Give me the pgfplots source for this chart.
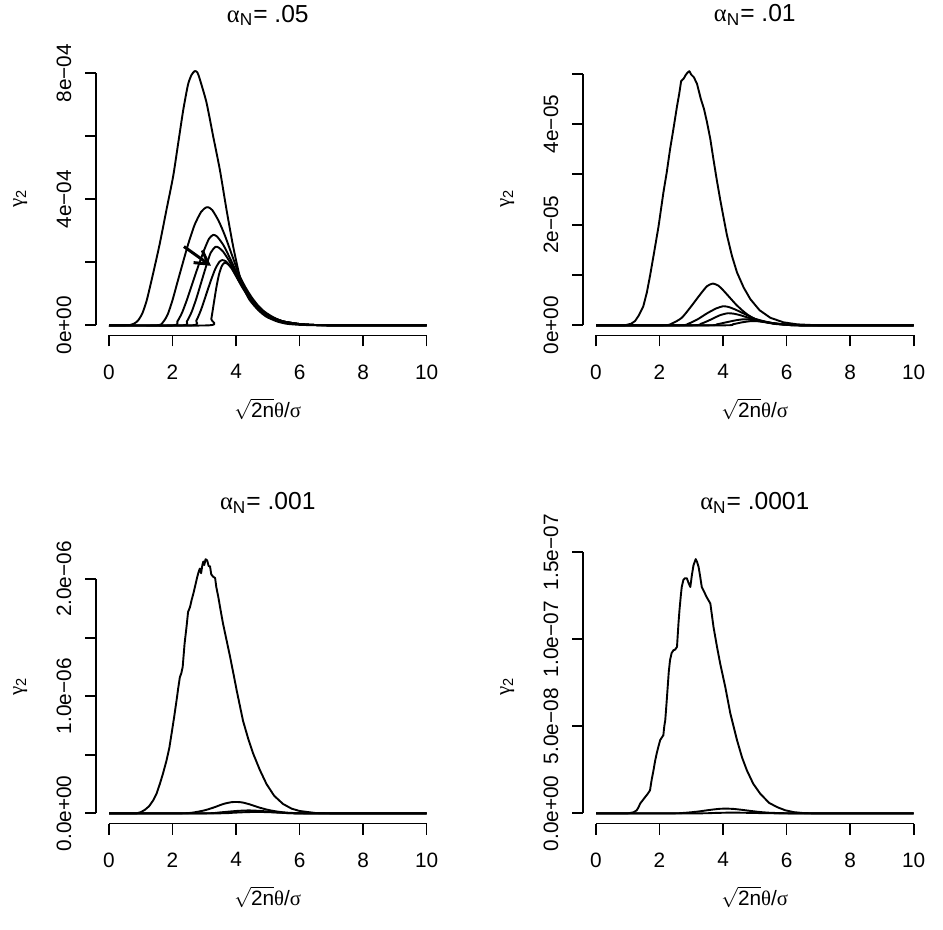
\documentclass[border=0pt]{standalone}
\usepackage{fontspec}
\setmainfont{Liberation Sans}
\newfontfamily\grk{Liberation Serif}
\usepackage{pgfplots}
\pgfplotsset{compat=1.18}
\usetikzlibrary{arrows.meta}
\newcommand{\gl}[1]{{\grk #1}}
\newcommand{\tfont}{\fontsize{12.3}{14}\selectfont}
\newcommand{\lfont}{\fontsize{10.4}{12}\selectfont}
\pgfplotsset{
  rpanel/.style={
    scale only axis, width=171.5pt, height=137.25pt,
    xmin=-0.4, xmax=10.4,
    axis line style={draw=none},
    tick align=outside, xtick pos=left, ytick pos=left,
    major tick length=5.5pt,
    tick style={black, line width=0.9pt},
    xtick={0,2,4,6,8,10}, xticklabels={0,2,4,6,8,10},
    ticklabel style={font=\lfont},
    xticklabel shift=5.5pt,
    yticklabel shift=3.5pt,
    yticklabel style={rotate=90, anchor=south},
    clip=false,
    cycle list={{black, mark=none}},
    every axis plot/.append style={black, line width=0.95pt, line join=round, mark=none},
  }
}
\newcommand{\panellabels}[1]{%
  \node[anchor=base, inner sep=0pt, yshift=19.5pt, font=\tfont] at (rel axis cs:0.5,1) {#1};
  \node[anchor=base, inner sep=0pt, yshift=-41pt, font=\lfont] at (rel axis cs:0.5,0) {$\sqrt{\mbox{2n}}$\gl{θ}/\gl{σ}};
  \node[rotate=90, inner sep=0pt, font=\lfont] at ([xshift=-38pt]rel axis cs:0,0.5) {\gl{γ}\textsubscript{2}};
}
\begin{document}
\begin{tikzpicture}
\path[use as bounding box] (0,0) rectangle (471.5pt,-465pt);

% ---------------- alpha = .05 (units 1e-4)
\begin{axis}[rpanel, at={(48.15pt,-167.75pt)}, anchor=south west,
  ymin=-0.323, ymax=8.39, ytick={0,2,4,6,8}, yticklabels={0e+00,{},4e−04,{},8e−04}]
\draw[line width=0.9pt] (axis cs:0,-0.323) -- (axis cs:10,-0.323);
\draw[line width=0.9pt] (axis cs:-0.4,0) -- (axis cs:-0.4,8);
\addplot[black, smooth, tension=0.4] coordinates {(0,0) (0.5,0) (0.66,0.01) (0.8,0.06) (0.92,0.16) (1.05,0.38) (1.19,0.80) (1.39,1.65) (1.6,2.6) (1.81,3.67) (2.02,4.73) (2.18,5.79) (2.34,6.85) (2.49,7.65) (2.6,7.95) (2.7,8.07) (2.78,8.03) (2.86,7.81) (3.07,7.07) (3.28,6.0) (3.49,4.94) (3.7,3.67) (3.91,2.5) (4.12,1.54) (4.3,1.05) (4.43,0.80) (4.7,0.48) (4.96,0.27) (5.3,0.12) (5.59,0.05) (6,0.015) (6.5,0.003) (7,0) (10,0)};
\addplot[black, smooth, tension=0.4] coordinates {(0,0) (1.5,0) (1.7,0.1) (1.85,0.35) (2.0,0.8) (2.15,1.35) (2.33,2.0) (2.5,2.6) (2.7,3.2) (2.9,3.6) (3.05,3.74) (3.12,3.75) (3.25,3.66) (3.45,3.32) (3.65,2.85) (3.9,2.15) (4.1,1.6) (4.3,1.2) (4.5,0.88) (4.7,0.62) (4.9,0.43) (5.2,0.24) (5.5,0.12) (6,0.04) (6.5,0.01) (7,0) (10,0)};
\addplot[black, smooth, tension=0.4] coordinates {(0,0) (2.0,0) (2.15,0.12) (2.3,0.4) (2.45,0.8) (2.6,1.25) (2.8,1.85) (3.0,2.4) (3.15,2.75) (3.28,2.87) (3.4,2.82) (3.6,2.55) (3.8,2.15) (4.0,1.72) (4.2,1.3) (4.4,0.95) (4.6,0.68) (4.8,0.48) (5.0,0.33) (5.2,0.23) (5.5,0.12) (6,0.04) (6.5,0.01) (7,0) (10,0)};
\addplot[black, smooth, tension=0.4] coordinates {(0,0) (2.3,0) (2.45,0.12) (2.6,0.42) (2.75,0.85) (2.9,1.35) (3.05,1.85) (3.2,2.3) (3.35,2.49) (3.45,2.47) (3.6,2.33) (3.8,2.02) (4.0,1.65) (4.2,1.26) (4.4,0.93) (4.6,0.66) (4.8,0.47) (5.0,0.32) (5.2,0.22) (5.5,0.12) (6,0.04) (6.5,0.01) (7,0) (10,0)};
\addplot[black, smooth, tension=0.4] coordinates {(0,0) (2.6,0) (2.75,0.15) (2.9,0.5) (3.05,0.95) (3.2,1.4) (3.35,1.8) (3.48,2.02) (3.57,2.07) (3.68,2.03) (3.85,1.85) (4.0,1.58) (4.2,1.22) (4.4,0.9) (4.6,0.65) (4.8,0.46) (5.0,0.32) (5.2,0.22) (5.5,0.12) (6,0.04) (6.5,0.01) (7,0) (10,0)};
\addplot[black, smooth, tension=0.4] coordinates {(0,0) (3.15,0) (3.22,0.2) (3.3,0.7) (3.38,1.2) (3.46,1.6) (3.55,1.88) (3.63,1.98) (3.72,1.96) (3.85,1.82) (4.0,1.56) (4.2,1.2) (4.4,0.89) (4.6,0.64) (4.8,0.45) (5.0,0.31) (5.2,0.21) (5.5,0.11) (6,0.04) (6.5,0.01) (7,0) (10,0)};
\draw[line width=1.5pt, -{Straight Barb[length=6.5pt, width=7.5pt]}] (axis cs:2.36,2.50) -- (axis cs:3.21,1.89);
\panellabels{\gl{α}\textsubscript{N}= .05}
\end{axis}

% ---------------- alpha = .01 (units 1e-5)
\begin{axis}[rpanel, at={(291.65pt,-167.75pt)}, anchor=south west,
  ymin=-0.202, ymax=5.252, ytick={0,1,2,3,4,5}, yticklabels={0e+00,{},2e−05,{},4e−05,{}}]
\draw[line width=0.9pt] (axis cs:0,-0.202) -- (axis cs:10,-0.202);
\draw[line width=0.9pt] (axis cs:-0.4,0) -- (axis cs:-0.4,5);
\addplot[black, sharp plot] coordinates {(0,0) (0.9,0) (1.1,0.03) (1.23,0.085) (1.35,0.2) (1.49,0.38) (1.6,0.65) (1.70,0.98) (1.83,1.45) (1.97,1.97) (2.12,2.63) (2.23,3.05) (2.33,3.49) (2.45,3.95) (2.55,4.35) (2.62,4.6) (2.68,4.85) (2.72,4.88) (2.76,4.9) (2.82,4.97) (2.88,5.02) (2.94,5.05) (3.0,4.98) (3.08,4.93) (3.18,4.8) (3.3,4.5) (3.4,4.3) (3.49,4.05) (3.6,3.7) (3.70,3.29) (3.8,2.9) (3.91,2.50) (4.02,2.13) (4.12,1.8) (4.28,1.38) (4.44,1.05) (4.65,0.75) (4.86,0.52) (5.15,0.3) (5.49,0.15) (5.9,0.06) (6.33,0.02) (7,0) (10,0)};
\addplot[black, smooth, tension=0.4] coordinates {(0,0) (2.1,0) (2.4,0.04) (2.7,0.15) (3.0,0.38) (3.3,0.63) (3.5,0.78) (3.68,0.83) (3.85,0.79) (4.0,0.7) (4.2,0.56) (4.4,0.42) (4.6,0.3) (4.8,0.2) (5.0,0.13) (5.3,0.07) (5.6,0.03) (6.0,0.01) (6.5,0) (10,0)};
\addplot[black, smooth, tension=0.4] coordinates {(0,0) (2.6,0) (2.9,0.03) (3.2,0.12) (3.5,0.24) (3.8,0.34) (4.02,0.38) (4.2,0.36) (4.4,0.31) (4.6,0.25) (4.8,0.19) (5.0,0.13) (5.3,0.08) (5.6,0.04) (6.0,0.015) (6.5,0) (10,0)};
\addplot[black, smooth, tension=0.4] coordinates {(0,0) (3.0,0) (3.3,0.03) (3.6,0.11) (3.9,0.2) (4.15,0.24) (4.35,0.23) (4.55,0.2) (4.8,0.15) (5.0,0.11) (5.3,0.07) (5.6,0.04) (6.0,0.015) (6.5,0) (10,0)};
\addplot[black, smooth, tension=0.4] coordinates {(0,0) (3.5,0) (3.8,0.02) (4.1,0.06) (4.4,0.1) (4.65,0.12) (4.9,0.11) (5.2,0.08) (5.5,0.05) (5.8,0.025) (6.2,0.008) (6.6,0) (10,0)};
\addplot[black, smooth, tension=0.4] coordinates {(0,0) (4.0,0) (4.3,0.02) (4.6,0.06) (4.9,0.085) (5.1,0.08) (5.4,0.055) (5.7,0.03) (6.0,0.012) (6.5,0) (10,0)};
\panellabels{\gl{α}\textsubscript{N}= .01}
\end{axis}

% ---------------- alpha = .001 (units 1e-6)
\begin{axis}[rpanel, at={(48.15pt,-411.75pt)}, anchor=south west,
  ymin=-0.0868, ymax=2.257, ytick={0,0.5,1,1.5,2}, yticklabels={0.0e+00,{},1.0e−06,{},2.0e−06}]
\draw[line width=0.9pt] (axis cs:0,-0.0868) -- (axis cs:10,-0.0868);
\draw[line width=0.9pt] (axis cs:-0.4,0) -- (axis cs:-0.4,2);
\addplot[black, sharp plot] coordinates {(0,0) (0.87,0) (1.0,0.01) (1.13,0.03) (1.26,0.06) (1.39,0.11) (1.5,0.17) (1.60,0.25) (1.7,0.34) (1.81,0.45) (1.9,0.56) (1.97,0.68) (2.05,0.82) (2.13,0.97) (2.18,1.07) (2.23,1.16) (2.28,1.2) (2.32,1.25) (2.38,1.45) (2.44,1.59) (2.49,1.72) (2.55,1.76) (2.60,1.82) (2.66,1.88) (2.72,1.95) (2.78,2.02) (2.82,2.06) (2.86,2.09) (2.9,2.05) (2.94,2.12) (2.97,2.15) (3.0,2.12) (3.04,2.17) (3.09,2.16) (3.14,2.11) (3.18,2.11) (3.22,2.04) (3.28,2.02) (3.34,2.01) (3.38,1.93) (3.44,1.85) (3.51,1.74) (3.59,1.62) (3.7,1.48) (3.81,1.34) (3.92,1.19) (4.02,1.05) (4.12,0.92) (4.22,0.79) (4.38,0.64) (4.54,0.51) (4.75,0.37) (4.96,0.25) (5.2,0.15) (5.48,0.08) (5.75,0.04) (6.0,0.02) (6.5,0.003) (7,0) (10,0)};
\addplot[black, smooth, tension=0.4] coordinates {(0,0) (2.2,0) (2.6,0.005) (3.0,0.025) (3.3,0.05) (3.6,0.08) (3.85,0.095) (4.02,0.097) (4.2,0.093) (4.45,0.075) (4.7,0.052) (5.0,0.03) (5.3,0.015) (5.6,0.006) (6.0,0.001) (6.5,0) (10,0)};
\addplot[black, smooth, tension=0.4] coordinates {(0,0) (3.0,0) (3.5,0.008) (4.0,0.02) (4.4,0.025) (4.8,0.02) (5.2,0.01) (5.6,0.003) (6,0) (10,0)};
\addplot[black, smooth, tension=0.4] coordinates {(0,0) (3.4,0) (3.9,0.005) (4.3,0.01) (4.7,0.012) (5.1,0.009) (5.5,0.004) (6,0) (10,0)};
\panellabels{\gl{α}\textsubscript{N}= .001}
\end{axis}

% ---------------- alpha = .0001 (units 1e-8)
\begin{axis}[rpanel, at={(291.65pt,-411.75pt)}, anchor=south west,
  ymin=-0.584, ymax=15.18, ytick={0,5,10,15}, yticklabels={0.0e+00,5.0e−08,1.0e−07,1.5e−07}]
\draw[line width=0.9pt] (axis cs:0,-0.584) -- (axis cs:10,-0.584);
\draw[line width=0.9pt] (axis cs:-0.4,0) -- (axis cs:-0.4,15);
\addplot[black, sharp plot] coordinates {(0,0) (1.0,0) (1.07,0.02) (1.18,0.06) (1.28,0.17) (1.34,0.35) (1.39,0.56) (1.47,0.75) (1.55,0.94) (1.62,1.1) (1.70,1.32) (1.75,1.9) (1.81,2.47) (1.86,3.0) (1.91,3.43) (1.96,3.8) (2.02,4.2) (2.07,4.35) (2.12,4.48) (2.15,5.0) (2.18,5.34) (2.22,6.3) (2.25,7.07) (2.29,8.1) (2.33,8.79) (2.38,9.2) (2.44,9.37) (2.49,9.4) (2.55,9.56) (2.6,11.0) (2.63,11.7) (2.67,12.5) (2.70,13.0) (2.75,13.4) (2.80,13.5) (2.86,13.5) (2.92,13.2) (2.97,13.0) (3.02,13.7) (3.07,14.25) (3.14,14.6) (3.18,14.45) (3.23,14.15) (3.28,13.6) (3.33,13.0) (3.41,12.7) (3.49,12.4) (3.6,12.05) (3.70,10.7) (3.81,9.56) (3.91,8.6) (4.07,7.26) (4.23,5.73) (4.44,4.2) (4.6,3.2) (4.75,2.47) (4.95,1.7) (5.17,1.13) (5.45,0.6) (5.70,0.36) (5.95,0.18) (6.22,0.07) (6.5,0.02) (6.8,0) (10,0)};
\addplot[black, smooth, tension=0.4] coordinates {(0,0) (2.4,0) (2.8,0.03) (3.2,0.1) (3.6,0.2) (3.9,0.26) (4.12,0.27) (4.35,0.25) (4.6,0.2) (4.9,0.13) (5.2,0.07) (5.5,0.03) (5.9,0.01) (6.3,0) (10,0)};
\addplot[black, smooth, tension=0.4] coordinates {(0,0) (3.2,0) (3.7,0.02) (4.2,0.04) (4.6,0.035) (5.0,0.02) (5.5,0.005) (6,0) (10,0)};
\panellabels{\gl{α}\textsubscript{N}= .0001}
\end{axis}
\end{tikzpicture}
\end{document}
